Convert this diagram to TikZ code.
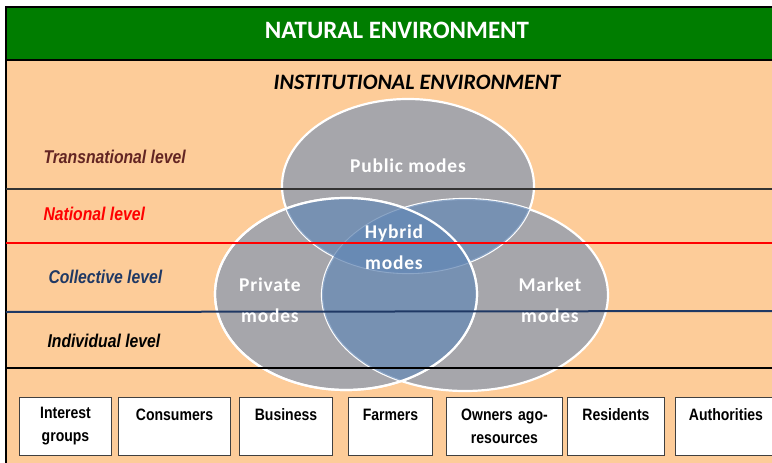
\documentclass[tikz,border=0pt]{standalone}
\usepackage{fontspec}
\setmainfont{Carlito}
\newfontfamily\narrowfont[FakeStretch=0.85]{Liberation Sans}
\newfontfamily\modefont[LetterSpace=4]{Carlito}
\usetikzlibrary{positioning}

\definecolor{forest}{RGB}{0,125,0}
\definecolor{peach}{RGB}{253,204,153}
\definecolor{modegrey}{RGB}{166,166,171}
\definecolor{overlapblue}{RGB}{104,138,181}
\definecolor{transbrown}{RGB}{99,37,35}
\definecolor{collblue}{RGB}{31,56,100}

\begin{document}
\begin{tikzpicture}[
	x=1pt, y=1pt
	,publicE/.style={insert path={(408,-186) ellipse [x radius=126, y radius=87]}}
	,privateE/.style={insert path={(346,-294) ellipse [x radius=131, y radius=96]}}
	,marketE/.style={insert path={(465,-295) ellipse [x radius=143, y radius=96]}}
	,rim/.style={draw=white, line width=2.2pt}
	,levelline/.style={line width=2pt}
	,level/.style={anchor=west, font=\narrowfont\bfseries\itshape\fontsize{18.5}{20}\selectfont}
	,mode/.style={text=white, align=center, font=\modefont\bfseries\fontsize{19.5}{31}\selectfont}
	,actor/.style={draw=black!75, fill=white, line width=1pt, minimum height=58pt,
		text width=#1, inner xsep=0pt, align=center,
		font=\narrowfont\bfseries\fontsize{16.5}{23}\selectfont}
]
	\clip (0,0) rectangle (772,-463);

	% frame
	\fill[peach] (6,-60) rectangle (780,-470);
	\fill[forest] (6,-7) rectangle (780,-60);
	\draw[line width=1.5pt] (6,-470) -- (6,-7) -- (780,-7);
	\draw[line width=1.2pt] (6,-60) -- (780,-60);

	\node[text=white, font=\bfseries\fontsize{25}{27}\selectfont] (natural) at (397,-30) {NATURAL ENVIRONMENT};
	\node[font=\bfseries\itshape\fontsize{22}{24}\selectfont] (institutional) at (417,-82) {INSTITUTIONAL ENVIRONMENT};

	% modes
	\fill[modegrey, publicE];
	\fill[modegrey, privateE];
	\fill[modegrey, marketE];
	\draw[rim, publicE];
	\draw[rim, marketE];
	\draw[rim, privateE];
	\begin{scope}
		\clip[publicE];
		\fill[overlapblue, opacity=.75, privateE];
	\end{scope}
	\begin{scope}
		\clip[publicE];
		\fill[overlapblue, opacity=.75, marketE];
	\end{scope}
	\begin{scope}
		\clip[privateE];
		\fill[overlapblue, opacity=.75, marketE];
	\end{scope}
	\draw[rim, privateE];

	% levels
	\draw[levelline, black!80] (6,-189) -- (780,-189);
	\draw[levelline, red] (6,-243) -- (780,-243);
	\draw[levelline, collblue] (6,-312) -- (780,-311);
	\draw[levelline, black] (6,-368) -- (780,-368);

	\node[level, text=transbrown] (transnational) at (40,-157) {Transnational level};
	\node[level, text=red] (national) at (40,-214) {National level};
	\node[level, text=collblue] (collective) at (45,-277) {Collective level};
	\node[level, text=black] (individual) at (44,-341) {Individual level};

	\node[mode] (public) at (408,-166) {Public modes};
	\node[mode] (hybrid) at (394,-247) {Hybrid\\modes};
	\node[mode] (private) at (270,-300) {Private\\modes};
	\node[mode] (market) at (550,-300) {Market\\modes};

	% actors
	\node[actor=92pt, anchor=north west] (interest) at (19,-397) {Interest\\groups};
	\node[actor=112pt, right=6pt of interest] (consumers) {Consumers\\~};
	\node[actor=93pt, right=8pt of consumers] (business) {Business\\~};
	\node[actor=84pt, right=15pt of business] (farmers) {Farmers\\~};
	\node[actor=116pt, right=13pt of farmers] (owners) {Owners ago-\\resources};
	\node[actor=97pt, right=4pt of owners] (residents) {Residents\\~};
	\node[actor=101pt, right=10pt of residents] (authorities) {Authorities\\~};
\end{tikzpicture}
\end{document}
